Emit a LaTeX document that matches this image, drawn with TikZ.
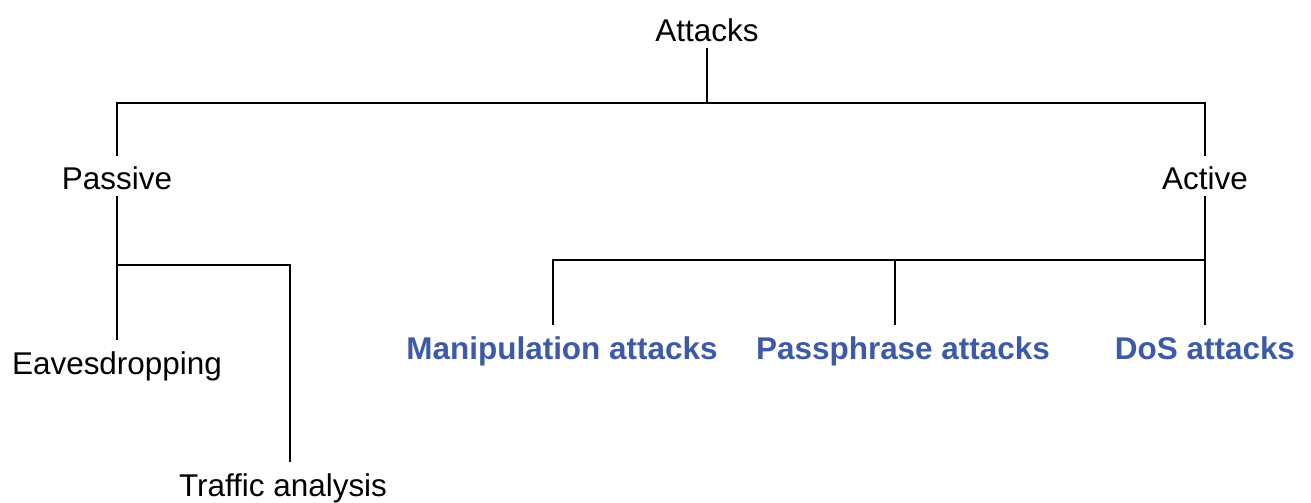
\documentclass[tikz,border=0pt]{standalone}
\usepackage{fontspec}
\setmainfont{Liberation Sans}
\definecolor{modra}{HTML}{3D5AA9}

\begin{document}
\begin{tikzpicture}[x=0.02cm, y=-0.02cm, line width=1pt,
        uzel/.style={anchor=base, inner sep=3pt, text height=15.8pt,
            font=\fontsize{17.9}{21.5}\selectfont},
        list/.style={uzel, text=modra, font=\fontsize{17.9}{21.5}\selectfont\bfseries}]
        \useasboundingbox (0,0) rectangle (1311,503);

        % kořen
        \node[uzel] (attacks) at (707,42) {Attacks};
        \coordinate (top) at (707,103);
        \draw (attacks) -- (top);

        % pasivní a aktivní
        \node[uzel] (passive) at (117,190) {Passive};
        \node[uzel] (active) at (1205,190) {Active};
        \draw (passive) -- (passive |- top) -- (active |- top) -- (active);

        % pasivní útoky
        \node[uzel] (eaves) at (117,374) {Eavesdropping};
        \node[uzel] (traffic) at (283,496) {Traffic analysis};
        \coordinate (tr) at (290,265);
        \draw (passive) -- (eaves);
        \draw (passive |- tr) -- (tr) -- (tr |- traffic.north);

        % aktivní útoky
        \node[list] (manip) at (562,359) {Manipulation attacks};
        \node[list] (phrase) at (903,359) {Passphrase attacks};
        \node[list] (dos) at (1205,359) {DoS attacks};
        \coordinate (mj) at (553,260);
        \coordinate (pj) at (895,260);
        \draw (active) -- (dos);
        \draw (active |- mj) -- (mj) -- (mj |- manip.north);
        \draw (pj) -- (pj |- phrase.north);
\end{tikzpicture}
\end{document}
